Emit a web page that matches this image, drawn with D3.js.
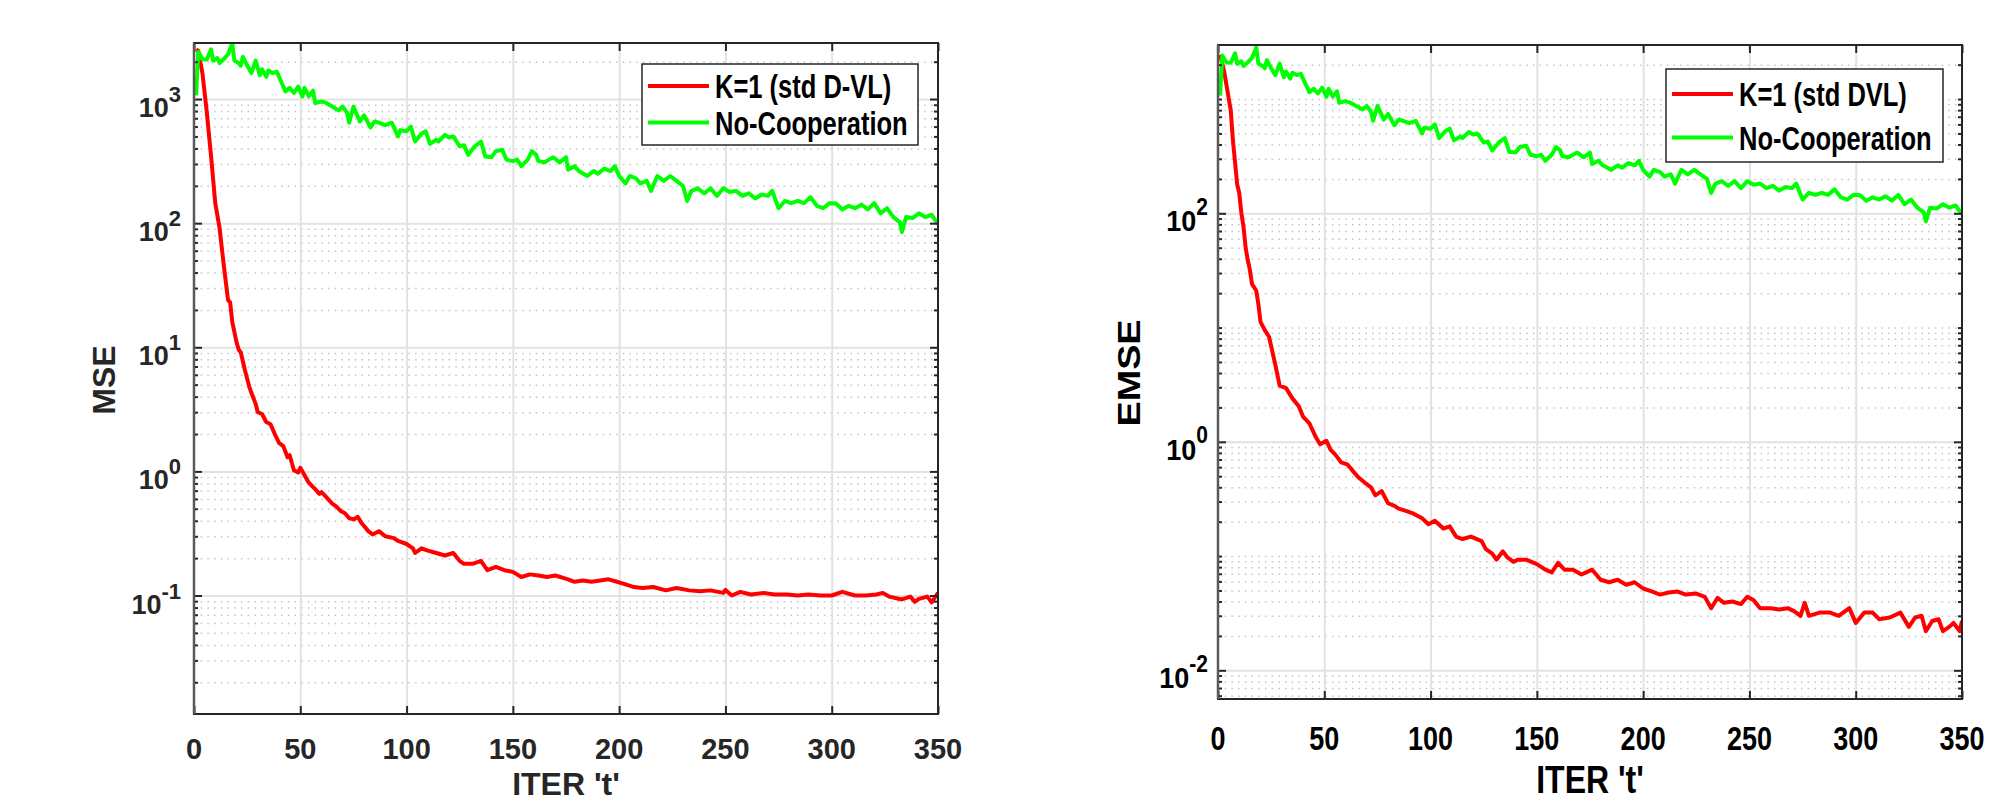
<!DOCTYPE html>
<html>
<head>
<meta charset="utf-8">
<script src="https://cdnjs.cloudflare.com/ajax/libs/d3/7.8.5/d3.min.js"></script>
<style>
body { margin: 0; background: #fff; }
svg { display: block; font-family: "Liberation Sans", Arial, Helvetica, sans-serif; font-weight: bold; }
</style>
</head>
<body>
<div class="chart"></div>
<script>
var width = 2011, height = 802;

// x ticks (iterations)
var xTicks = [0, 50, 100, 150, 200, 250, 300, 350];

// No-Cooperation curve (same in both plots)
var iterNoCoop = [
  1,2,4,6,8,9,11,12,14,16,
  18,19,21,22,23,25,27,29,31,32,
  34,35,37,39,40,43,45,47,49,51,
  52,54,56,57,60,62,65,68,70,72,
  73,75,78,80,83,85,87,90,93,96,
  97,100,102,104,107,109,111,114,115,118,
  120,122,125,127,129,132,135,137,140,142,
  145,147,150,152,154,157,159,161,162,165,
  167,169,172,175,176,179,181,185,188,190,
  193,196,198,200,203,205,208,210,213,215,
  218,221,224,227,230,232,234,237,240,243,
  246,249,252,255,258,261,264,267,270,272,
  275,278,281,284,287,290,293,296,299,302,
  305,308,311,314,317,320,323,326,329,332,
  333,335,338,341,344,347,350];
var noCoop = [
  1070,2400,2090,2080,2510,2040,2140,1950,2100,2290,
  2820,2040,1950,1860,2190,1860,1620,2040,1550,1740,
  1510,1700,1620,1660,1510,1150,1230,1120,1260,1050,
  1230,1050,1170,930,955,935,870,810,870,775,
  645,870,660,740,590,660,645,615,645,500,
  560,550,600,455,525,550,435,470,455,515,
  490,500,415,425,355,415,455,345,340,380,
  390,325,316,325,288,325,380,355,316,310,
  325,340,309,340,270,288,263,240,263,250,
  275,263,288,240,209,240,229,209,219,182,
  240,219,240,219,200,151,182,191,174,191,
  166,191,178,182,166,174,158,170,166,182,
  132,151,145,151,145,162,138,132,145,144,
  129,138,132,141,129,145,120,132,112,102,
  85,112,110,120,112,117,98];

// K=1 (std D-VL), MSE
var iterMse = [
  1,2,4,6,8,10,12,14,16,17,
  18,20,21,22,24,26,27,29,30,32,
  34,36,38,40,42,44,45,47,49,50,
  52,54,57,59,60,63,65,67,69,71,
  73,75,77,79,82,84,87,90,94,96,
  100,103,104,107,110,114,118,122,125,127,
  131,135,138,142,146,150,154,158,162,166,
  170,176,179,183,187,191,195,199,203,207,
  211,216,222,227,233,238,243,249,250,253,
  257,262,268,273,279,284,289,295,300,305,
  311,316,321,324,327,333,337,339,341,345,
  347,350];
var mseK1 = [
  2510,2450,1600,790,350,145,92,46,24,23,
  16,11,9.6,9.1,6.5,4.8,4.3,3.5,3.0,2.9,
  2.5,2.4,2.0,1.7,1.6,1.3,1.35,1.02,0.98,1.07,
  0.93,0.81,0.72,0.66,0.68,0.60,0.55,0.52,0.48,0.46,
  0.42,0.41,0.43,0.38,0.33,0.31,0.33,0.30,0.29,0.275,
  0.26,0.24,0.22,0.24,0.23,0.22,0.21,0.22,0.19,0.18,
  0.18,0.19,0.16,0.17,0.16,0.155,0.141,0.148,0.145,0.141,
  0.145,0.135,0.129,0.132,0.129,0.132,0.135,0.129,0.123,0.117,
  0.115,0.117,0.110,0.115,0.110,0.108,0.110,0.105,0.111,0.100,
  0.107,0.102,0.105,0.102,0.102,0.100,0.102,0.100,0.100,0.107,
  0.100,0.100,0.102,0.105,0.098,0.093,0.098,0.089,0.094,0.098,
  0.088,0.105];

// K=1 (std DVL), EMSE
var iterEmse = [
  1,3,6,7,9,10,11,12,13,14,
  15,16,17,18,19,20,22,24,27,29,
  32,35,38,40,43,46,48,51,53,55,
  58,61,64,66,69,72,74,77,80,83,
  85,88,92,96,99,102,106,109,112,115,
  119,124,126,129,131,134,136,139,141,145,
  150,154,157,160,163,167,171,176,180,184,
  188,192,196,200,204,208,212,216,220,225,
  229,232,235,238,242,246,249,252,255,260,
  264,268,271,274,276,278,283,288,292,297,
  300,304,308,311,316,321,325,328,331,333,
  336,339,341,344,346,349,350];
var emseK1 = [
  2450,1700,795,440,180,150,100,76,50,39,
  32,24,22.5,21,16,11.2,9.5,8.3,4.7,3.1,
  2.95,2.4,2.05,1.66,1.45,1.1,0.95,1.02,0.85,0.78,
  0.66,0.63,0.54,0.49,0.44,0.40,0.34,0.37,0.29,0.275,
  0.26,0.25,0.235,0.214,0.19,0.204,0.174,0.182,0.148,0.141,
  0.148,0.135,0.115,0.105,0.093,0.11,0.098,0.089,0.093,0.093,
  0.085,0.076,0.072,0.087,0.076,0.076,0.069,0.076,0.062,0.059,
  0.062,0.056,0.059,0.052,0.049,0.046,0.048,0.049,0.046,0.047,
  0.044,0.035,0.043,0.039,0.040,0.038,0.044,0.041,0.035,0.035,
  0.034,0.035,0.033,0.030,0.039,0.030,0.032,0.032,0.030,0.035,
  0.026,0.032,0.032,0.028,0.029,0.032,0.024,0.029,0.030,0.022,
  0.027,0.028,0.022,0.024,0.026,0.022,0.027];

var legendMse = ["K=1 (std D-VL)", "No-Cooperation"];
var legendEmse = ["K=1 (std DVL)", "No-Cooperation"];

var svg = d3.select(".chart").append("svg")
    .attr("width", width)
    .attr("height", height);

// text helper; sx/sy stretch the glyphs like the original export
function addText(sel, x, y, str, size, sx, sy, anchor, fill) {
    return sel.append("text")
        .attr("transform", "translate(" + x + "," + y + ") scale(" + sx + "," + sy + ")")
        .attr("text-anchor", anchor)
        .attr("font-size", size)
        .attr("fill", fill)
        .text(str);
}

function drawPanel(p) {
    var w = p.x1 - p.x0, h = p.y1 - p.y0;
    var x = d3.scaleLinear().domain([0, 350]).range([0, w]);
    var y = d3.scaleLog().domain(p.yDomain).range([h, 0]);

    var majors = p.majorExp.map(function(e) { return Math.pow(10, e); });
    var minors = [];
    var eLo = Math.floor(Math.log10(p.yDomain[0])), eHi = Math.ceil(Math.log10(p.yDomain[1]));
    for (var e = eLo; e <= eHi; e++) {
        for (var d = 1; d <= 9; d++) {
            var v = d * Math.pow(10, e);
            if (v < p.yDomain[0] || v > p.yDomain[1]) continue;
            if (d == 1 && p.majorExp.indexOf(e) >= 0) continue;
            minors.push(v);
        }
    }

    var g = svg.append("g").attr("transform", "translate(" + p.x0 + "," + p.y0 + ")");

    // minor dotted grid
    var gm = g.append("g").call(d3.axisLeft(y).tickValues(minors).tickSize(-w).tickFormat(""));
    gm.select(".domain").remove();
    gm.selectAll("line").attr("stroke", "#c4c4c4").attr("stroke-width", 1.5)
        .attr("stroke-dasharray", "1.5,5.2");

    // major grid
    var gy = g.append("g").call(d3.axisLeft(y).tickValues(majors).tickSize(-w).tickFormat(""));
    gy.select(".domain").remove();
    gy.selectAll("line").attr("stroke", "#e2e2e2").attr("stroke-width", 2);
    var gxg = g.append("g").attr("transform", "translate(0," + h + ")")
        .call(d3.axisBottom(x).tickValues(xTicks.slice(1, -1)).tickSize(-h).tickFormat(""));
    gxg.select(".domain").remove();
    gxg.selectAll("line").attr("stroke", "#e2e2e2").attr("stroke-width", 2);

    // curves
    var clipId = "clip" + p.x0;
    g.append("clipPath").attr("id", clipId).append("rect").attr("width", w).attr("height", h);
    var valueline = d3.line()
        .x(function(d) { return x(d[0]); })
        .y(function(d) { return y(d[1]); });
    g.append("path").attr("clip-path", "url(#" + clipId + ")")
        .attr("d", valueline(d3.zip(p.iter, p.vals)))
        .attr("fill", "none").attr("stroke", "#ff0000").attr("stroke-width", 4)
        .attr("stroke-linejoin", "round");
    g.append("path").attr("clip-path", "url(#" + clipId + ")")
        .attr("d", valueline(d3.zip(iterNoCoop, noCoop)))
        .attr("fill", "none").attr("stroke", "#00ff00").attr("stroke-width", 4)
        .attr("stroke-linejoin", "round");

    // ticks on all four sides (inward)
    var axes = [
        [d3.axisBottom(x).tickValues(xTicks), "translate(0," + h + ")", 8],
        [d3.axisTop(x).tickValues(xTicks), "translate(0,0)", 8],
        [d3.axisLeft(y).tickValues(majors), "translate(0,0)", 8],
        [d3.axisLeft(y).tickValues(minors), "translate(0,0)", 4],
        [d3.axisRight(y).tickValues(majors), "translate(" + w + ",0)", 8],
        [d3.axisRight(y).tickValues(minors), "translate(" + w + ",0)", 4]
    ];
    axes.forEach(function(a) {
        var ga = g.append("g").attr("transform", a[1])
            .call(a[0].tickSize(-a[2]).tickSizeOuter(0).tickFormat(""));
        ga.select(".domain").remove();
        ga.selectAll("line").attr("stroke", "#262626").attr("stroke-width", 2);
    });

    // box
    g.append("rect").attr("width", w).attr("height", h)
        .attr("fill", "none").attr("stroke", "#262626").attr("stroke-width", 2);
    g.append("line").attr("x1", 0).attr("x2", 0).attr("y1", 0).attr("y2", h)
        .attr("stroke", "#5a5a5a").attr("stroke-width", 2.5);

    // x tick labels
    xTicks.forEach(function(t) {
        addText(g, x(t), h + p.xLabOff, String(t), p.xFont, 1, p.xSy, "middle", p.textColor);
    });

    // y tick labels 10^e
    p.majorExp.forEach(function(e) {
        var tx = addText(g, -p.yLabGap, y(Math.pow(10, e)) + p.yLabOff, "", p.yFont, 1, p.ySy, "end", p.textColor);
        tx.append("tspan").text("10");
        tx.append("tspan").attr("font-size", p.expFont).attr("dy", -p.expRaise).text(String(e));
    });

    // axis titles
    addText(svg, (p.x0 + p.x1) / 2, p.xTitleY, "ITER 't'", 32, 1, p.xSy, "middle", p.textColor);
    svg.append("text")
        .attr("transform", "translate(" + p.yTitleX + "," + p.yTitleY + ") rotate(-90) scale(" + p.yTitleSx + ",1)")
        .attr("text-anchor", "middle").attr("font-size", 32).attr("fill", p.textColor)
        .text(p.ylabel);

    // legend
    var lg = svg.append("g").attr("transform", "translate(" + p.leg[0] + "," + p.leg[1] + ")");
    lg.append("rect").attr("width", p.leg[2]).attr("height", p.leg[3])
        .attr("fill", "#fff").attr("stroke", "#262626").attr("stroke-width", 1.5);
    var legColors = ["#ff0000", "#00ff00"];
    p.legend.forEach(function(s, i) {
        var ly = p.legRows[i];
        lg.append("line").attr("x1", 6).attr("x2", 67).attr("y1", ly).attr("y2", ly)
            .attr("stroke", legColors[i]).attr("stroke-width", 4);
        addText(lg, 73, ly + 12, s, 34, 0.75, 1, "start", "#000");
    });
}

drawPanel({
    x0: 194, x1: 938, y0: 43, y1: 714,
    yDomain: [0.0111, 2829], majorExp: [-1, 0, 1, 2, 3],
    iter: iterMse, vals: mseK1, ylabel: "MSE", legend: legendMse,
    textColor: "#262626",
    xFont: 29, xSy: 1, xLabOff: 44.5,
    yFont: 27, ySy: 1, expFont: 22, expRaise: 15, yLabGap: 13, yLabOff: 18,
    xTitleY: 795, yTitleX: 115, yTitleY: 380, yTitleSx: 1,
    leg: [642, 64, 276, 81], legRows: [22, 58.5]
});

drawPanel({
    x0: 1218, x1: 1962, y0: 45, y1: 699,
    yDomain: [0.00561, 2972], majorExp: [-2, 0, 2],
    iter: iterEmse, vals: emseK1, ylabel: "EMSE", legend: legendEmse,
    textColor: "#000",
    xFont: 27, xSy: 1.2, xLabOff: 51,
    yFont: 27, ySy: 1.12, expFont: 21, expRaise: 15, yLabGap: 10, yLabOff: 18,
    xTitleY: 793, yTitleX: 1140, yTitleY: 373, yTitleSx: 1.18,
    leg: [1666, 69, 277, 93], legRows: [25, 68.5]
});
</script>
</body>
</html>
